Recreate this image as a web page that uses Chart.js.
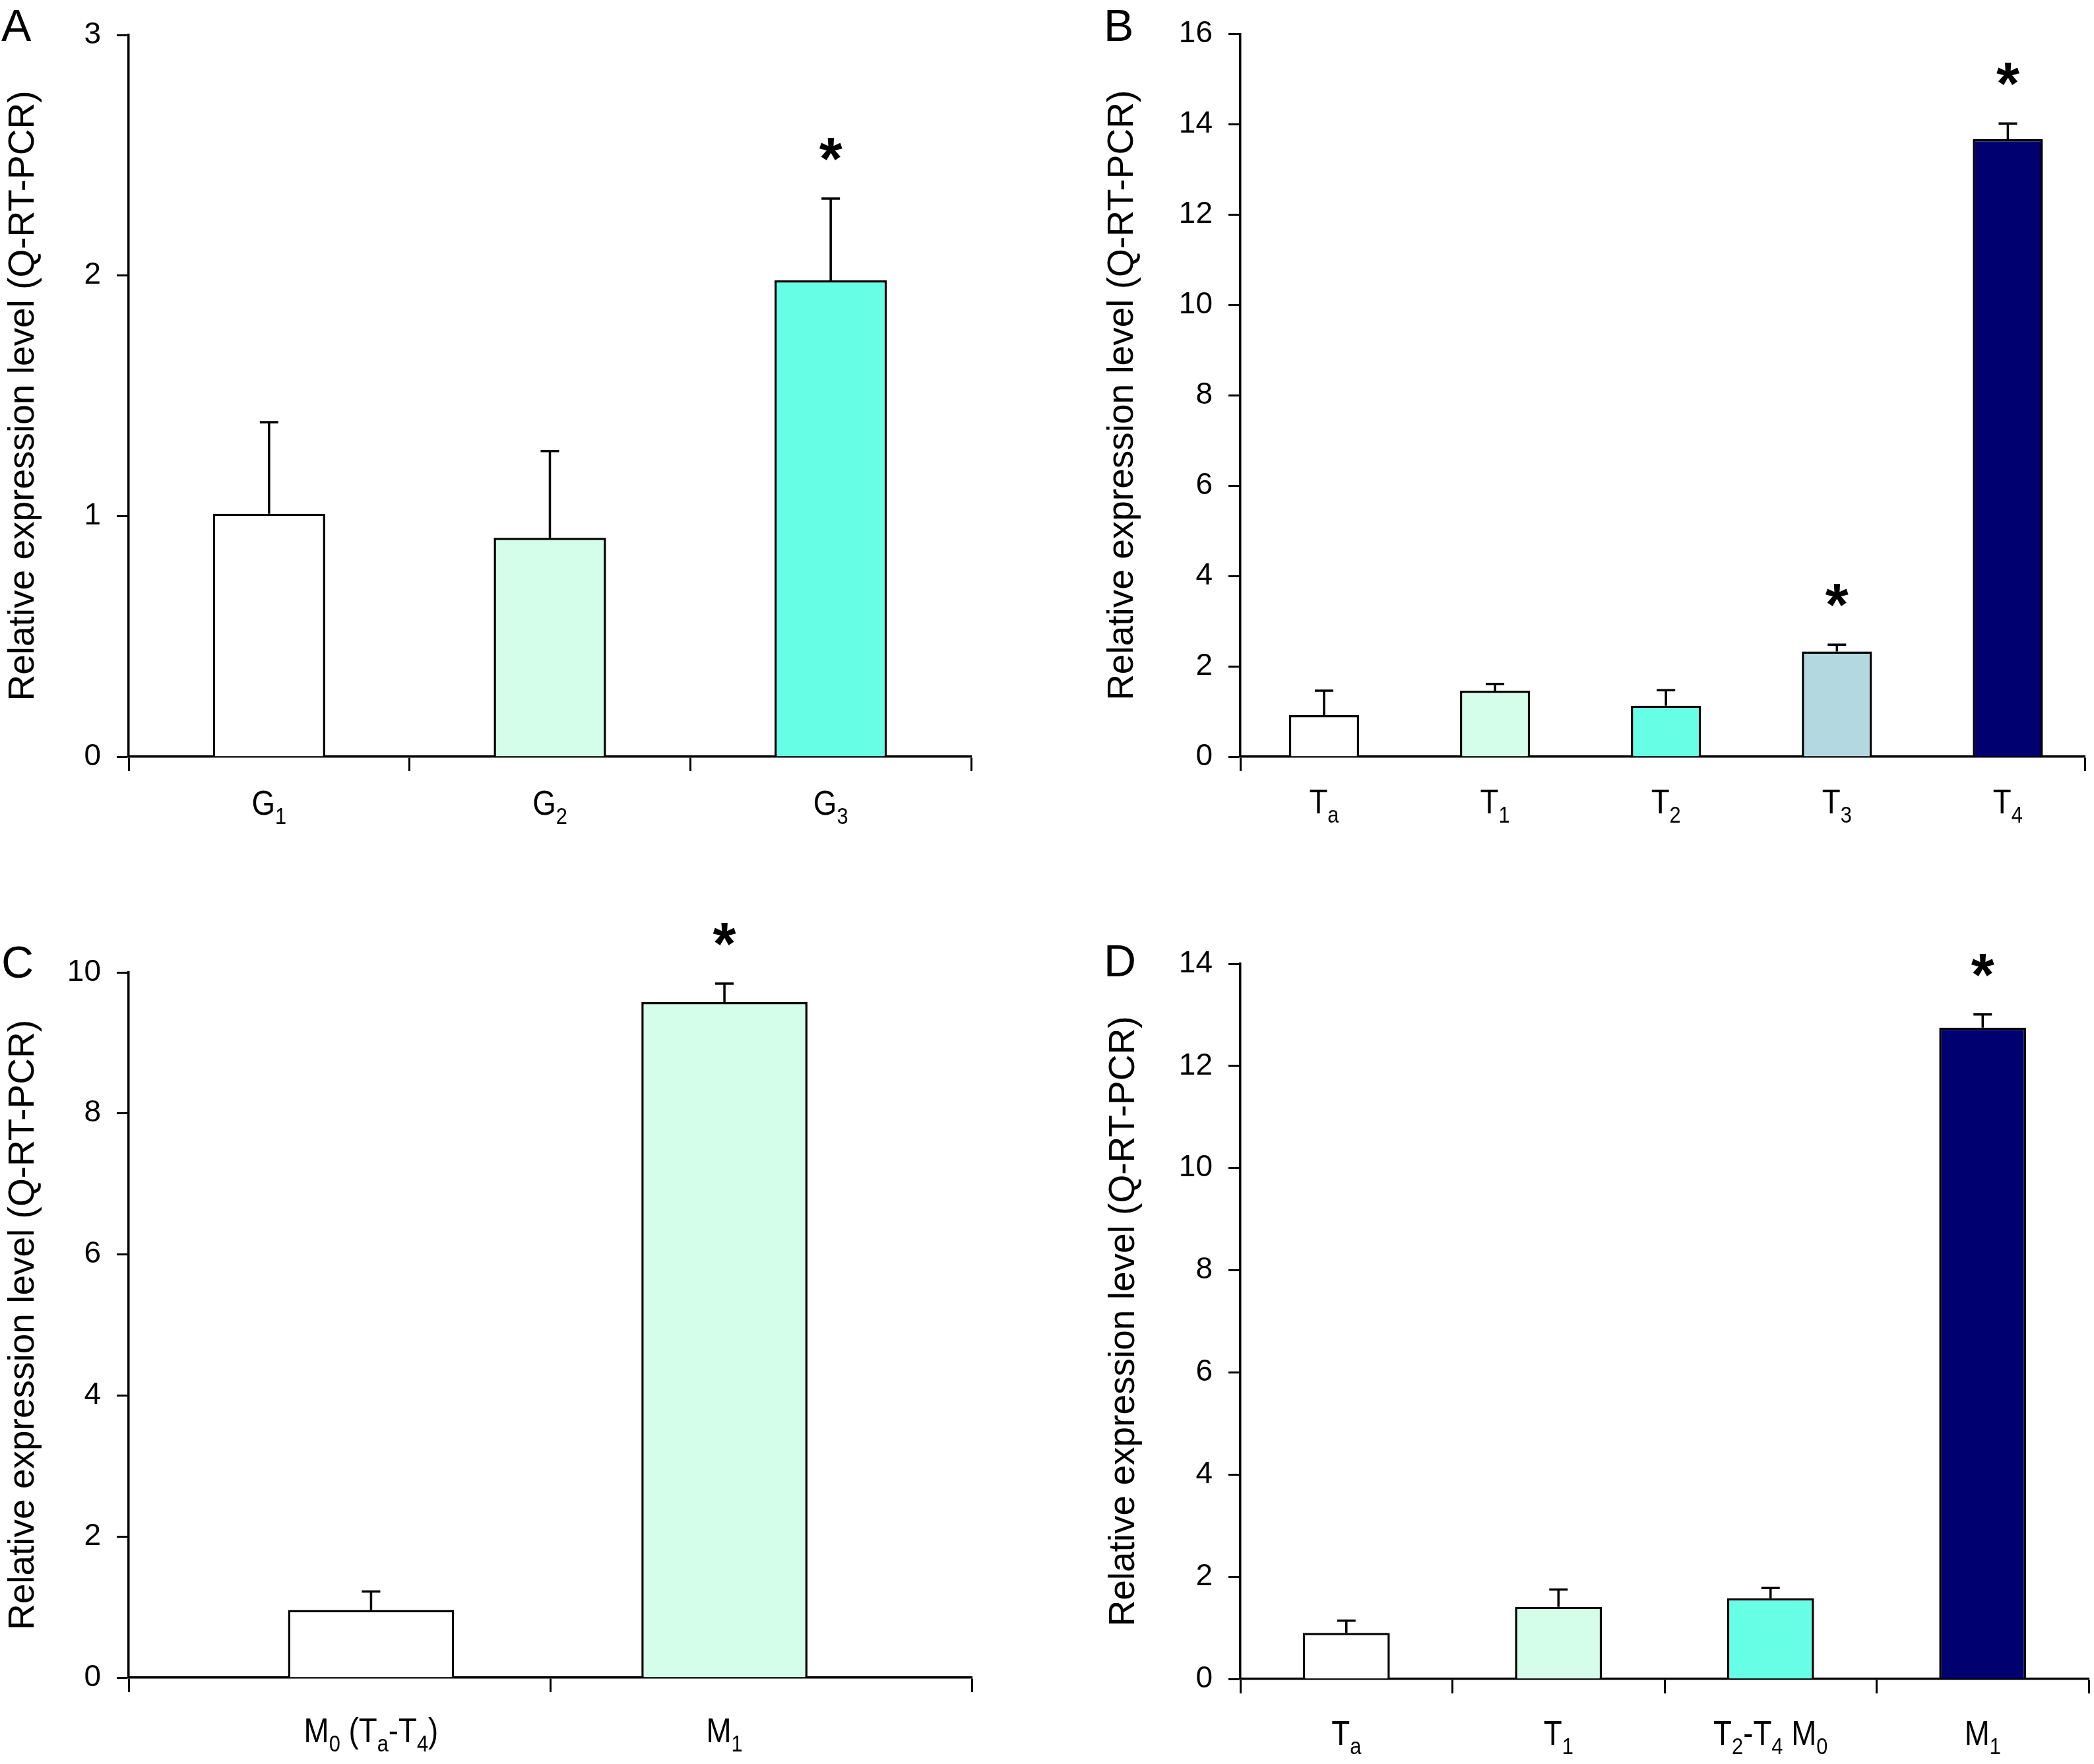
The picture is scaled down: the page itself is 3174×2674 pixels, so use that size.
<!DOCTYPE html>
<html>
<head>
<meta charset="utf-8">
<script src="https://cdn.jsdelivr.net/npm/chart.js@4.4.0/dist/chart.umd.min.js"></script>
<style>
  html, body { margin: 0; padding: 0; background: #fff; }
  #wrap { position: relative; width: 3174px; height: 2674px; background: #fff; }
  .panel { position: absolute; width: 1587px; height: 1337px; }
</style>
</head>
<body>
<div id="wrap">
  <div class="panel" style="left:0;top:0"><canvas id="cA" width="1587" height="1337"></canvas></div>
  <div class="panel" style="left:1587px;top:0"><canvas id="cB" width="1587" height="1337"></canvas></div>
  <div class="panel" style="left:0;top:1337px"><canvas id="cC" width="1587" height="1337"></canvas></div>
  <div class="panel" style="left:1587px;top:1337px"><canvas id="cD" width="1587" height="1337"></canvas></div>
</div>
<script>
// ---- data ----
// category labels, "_{..}" marks a subscript
const labelsA = ['G_{1}', 'G_{2}', 'G_{3}'];
const meanA = [1.01, 0.91, 1.98];
const errA = [0.38, 0.36, 0.34];
const starA = [false, false, true];

const labelsB = ['T_{a}', 'T_{1}', 'T_{2}', 'T_{3}', 'T_{4}'];
const meanB = [0.92, 1.46, 1.13, 2.33, 13.67];
const errB = [0.54, 0.15, 0.34, 0.15, 0.35];
const starB = [false, false, false, true, true];

const labelsC = ['M_{0} (T_{a}-T_{4})', 'M_{1}'];
const meanC = [0.96, 9.58];
const errC = [0.26, 0.26];
const starC = [false, true];

const labelsD = ['T_{a}', 'T_{1}', 'T_{2}-T_{4} M_{0}', 'M_{1}'];
const meanD = [0.90, 1.41, 1.58, 12.75];
const errD = [0.24, 0.34, 0.20, 0.26];
const starD = [false, false, false, true];

// y axis ranges
const yMaxA = 3, yStepA = 1;
const yMaxB = 16, yStepB = 2;
const yMaxC = 10, yStepC = 2;
const yMaxD = 14, yStepD = 2;

// x axis ranges (bars sit at index 0..n-1)
const xRangeA = [-0.5, 2.5];
const xRangeB = [-0.49, 4.45];
const xRangeC = [-0.686, 1.70];
const xRangeD = [-0.5, 3.5];

const yTitle = 'Relative expression level (Q-RT-PCR)';

// colours
const WHITE = '#ffffff', MINT = '#d4fdea', AQUA = '#66ffe6', STEEL = '#b4d8e0', NAVY = '#000070';

const FONT = '"Liberation Sans", Arial, Helvetica, sans-serif';

function parseLabel(s) {
  const segs = [];
  const re = /_\{([^}]*)\}/g;
  let last = 0, m;
  while ((m = re.exec(s))) {
    if (m.index > last) segs.push({ t: s.slice(last, m.index), sub: false });
    segs.push({ t: m[1], sub: true });
    last = re.lastIndex;
  }
  if (last < s.length) segs.push({ t: s.slice(last), sub: false });
  return segs;
}
function plain(s) { return s.replace(/_\{([^}]*)\}/g, '$1'); }

// draws one label with subscripts, centred on cx, baseline at by
function drawSubLabel(ctx, s, cx, by) {
  const mainFont = '52px ' + FONT, subFont = '35px ' + FONT;
  const sx = 0.88;
  const segs = parseLabel(s);
  let w = 0;
  segs.forEach(g => { ctx.font = g.sub ? subFont : mainFont; g.w = ctx.measureText(g.t).width; w += g.w; });
  ctx.save();
  ctx.translate(cx, by);
  ctx.scale(sx, 1);
  ctx.textAlign = 'left';
  ctx.textBaseline = 'alphabetic';
  ctx.fillStyle = '#000';
  let x = -w / 2;
  segs.forEach(g => {
    ctx.font = g.sub ? subFont : mainFont;
    ctx.fillText(g.t, x, g.sub ? 14 : 0);
    x += g.w;
  });
  ctx.restore();
}

const extras = {
  id: 'extras',
  afterDatasetsDraw(chart, args, o) {
    const ctx = chart.ctx;
    const yS = chart.scales.y;
    const meta = chart.getDatasetMeta(0);
    ctx.save();
    ctx.strokeStyle = '#000';
    ctx.fillStyle = '#000';
    ctx.lineWidth = 3.5;
    ctx.lineCap = 'butt';
    o.mean.forEach((m, i) => {
      const cx = meta.data[i].x;
      const y0 = yS.getPixelForValue(m);
      const y1 = yS.getPixelForValue(m + o.err[i]);
      ctx.beginPath();
      ctx.moveTo(cx, y0);
      ctx.lineTo(cx, y1);
      ctx.moveTo(cx - 14, y1);
      ctx.lineTo(cx + 14, y1);
      ctx.stroke();
      if (o.star[i]) {
        ctx.font = 'bold 90px ' + FONT;
        ctx.textAlign = 'center';
        ctx.textBaseline = 'alphabetic';
        ctx.fillText('*', cx, y1 - 29);
      }
      drawSubLabel(ctx, o.labels[i], cx, chart.chartArea.bottom + o.labelDy);
    });
    ctx.font = '68px ' + FONT;
    ctx.textAlign = 'left';
    ctx.textBaseline = 'alphabetic';
    ctx.fillText(o.letter, o.letterX, o.letterY);
    ctx.restore();
  }
};

function makeChart(id, p) {
  const W = 1587, H = 1337;
  const n = p.labels.length;
  return new Chart(document.getElementById(id), {
    type: 'bar',
    data: {
      labels: p.labels.map(plain),
      datasets: [{
        data: p.mean.map((v, i) => ({ x: i, y: v })),
        backgroundColor: p.colors,
        borderColor: '#000',
        borderWidth: 3.5,
        borderSkipped: 'bottom',
        barPercentage: p.barPct,
        categoryPercentage: 1.0
      }]
    },
    options: {
      responsive: false,
      animation: false,
      devicePixelRatio: 1,
      layout: { padding: { left: 0, top: p.top, right: W - p.right, bottom: 0 } },
      plugins: {
        legend: { display: false },
        tooltip: { enabled: false },
        extras: {
          mean: p.mean, err: p.err, star: p.star, labels: p.labels,
          labelDy: p.labelDy, letter: p.letter, letterX: p.letterX, letterY: p.letterY
        }
      },
      scales: {
        x: {
          type: 'linear',
          min: p.xRange[0],
          max: p.xRange[1],
          offset: false,
          afterFit: s => { s.height = H - p.bottom; },
          // tick marks at the n+1 equal group boundaries
          afterBuildTicks: s => {
            const t = [];
            for (let k = 0; k <= n; k++) t.push({ value: s.min + k * (s.max - s.min) / n });
            s.ticks = t;
          },
          ticks: { display: false },
          grid: {
            display: true,
            offset: false,
            drawOnChartArea: false,
            drawTicks: true,
            tickLength: 22,
            tickWidth: 3,
            tickColor: c => {
              if (!p.endTicksOnly) return '#000';
              return (c.index === 0 || c.index === n || c.index === undefined) ? '#000' : 'rgba(0,0,0,0)';
            }
          },
          border: { display: true, color: '#000', width: 3.5 }
        },
        y: {
          min: 0,
          max: p.yMax,
          afterFit: s => { s.width = p.left; },
          ticks: {
            stepSize: p.yStep,
            autoSkip: false,
            color: '#000',
            padding: 24,
            font: { family: FONT, size: 46 }
          },
          grid: {
            display: true,
            drawOnChartArea: false,
            drawTicks: true,
            tickLength: 18,
            tickWidth: 3,
            tickColor: '#000'
          },
          border: { display: true, color: '#000', width: 3.5 },
          title: {
            display: true,
            text: yTitle,
            color: '#000',
            font: { family: FONT, size: 55, lineHeight: 1.2 },
            padding: { top: p.titleX - 33, bottom: 0 }
          }
        }
      }
    },
    plugins: [extras]
  });
}

makeChart('cA', {
  labels: labelsA, mean: meanA, err: errA, star: starA,
  colors: [WHITE, MINT, AQUA],
  yMax: yMaxA, yStep: yStepA, xRange: xRangeA, barPct: 0.40,
  left: 195, top: 53, right: 1472, bottom: 1147,
  titleX: 36, labelDy: 88, endTicksOnly: false,
  letter: 'A', letterX: 2, letterY: 62
});

makeChart('cB', {
  labels: labelsB, mean: meanB, err: errB, star: starB,
  colors: [WHITE, MINT, AQUA, STEEL, NAVY],
  yMax: yMaxB, yStep: yStepB, xRange: xRangeB, barPct: 0.415,
  left: 293, top: 47, right: 1573, bottom: 1147,
  titleX: 115, labelDy: 86, endTicksOnly: true,
  letter: 'B', letterX: 86, letterY: 62
});

makeChart('cC', {
  labels: labelsC, mean: meanC, err: errC, star: starC,
  colors: [WHITE, MINT],
  yMax: yMaxC, yStep: yStepC, xRange: xRangeC, barPct: 0.47,
  left: 195, top: 137, right: 1473, bottom: 1206,
  titleX: 36, labelDy: 98, endTicksOnly: false,
  letter: 'C', letterX: 2, letterY: 145
});

makeChart('cD', {
  labels: labelsD, mean: meanD, err: errD, star: starD,
  colors: [WHITE, MINT, AQUA, NAVY],
  yMax: yMaxD, yStep: yStepD, xRange: xRangeD, barPct: 0.41,
  left: 293, top: 124, right: 1579, bottom: 1208,
  titleX: 117, labelDy: 100, endTicksOnly: false,
  letter: 'D', letterX: 86, letterY: 143
});
</script>
</body>
</html>
